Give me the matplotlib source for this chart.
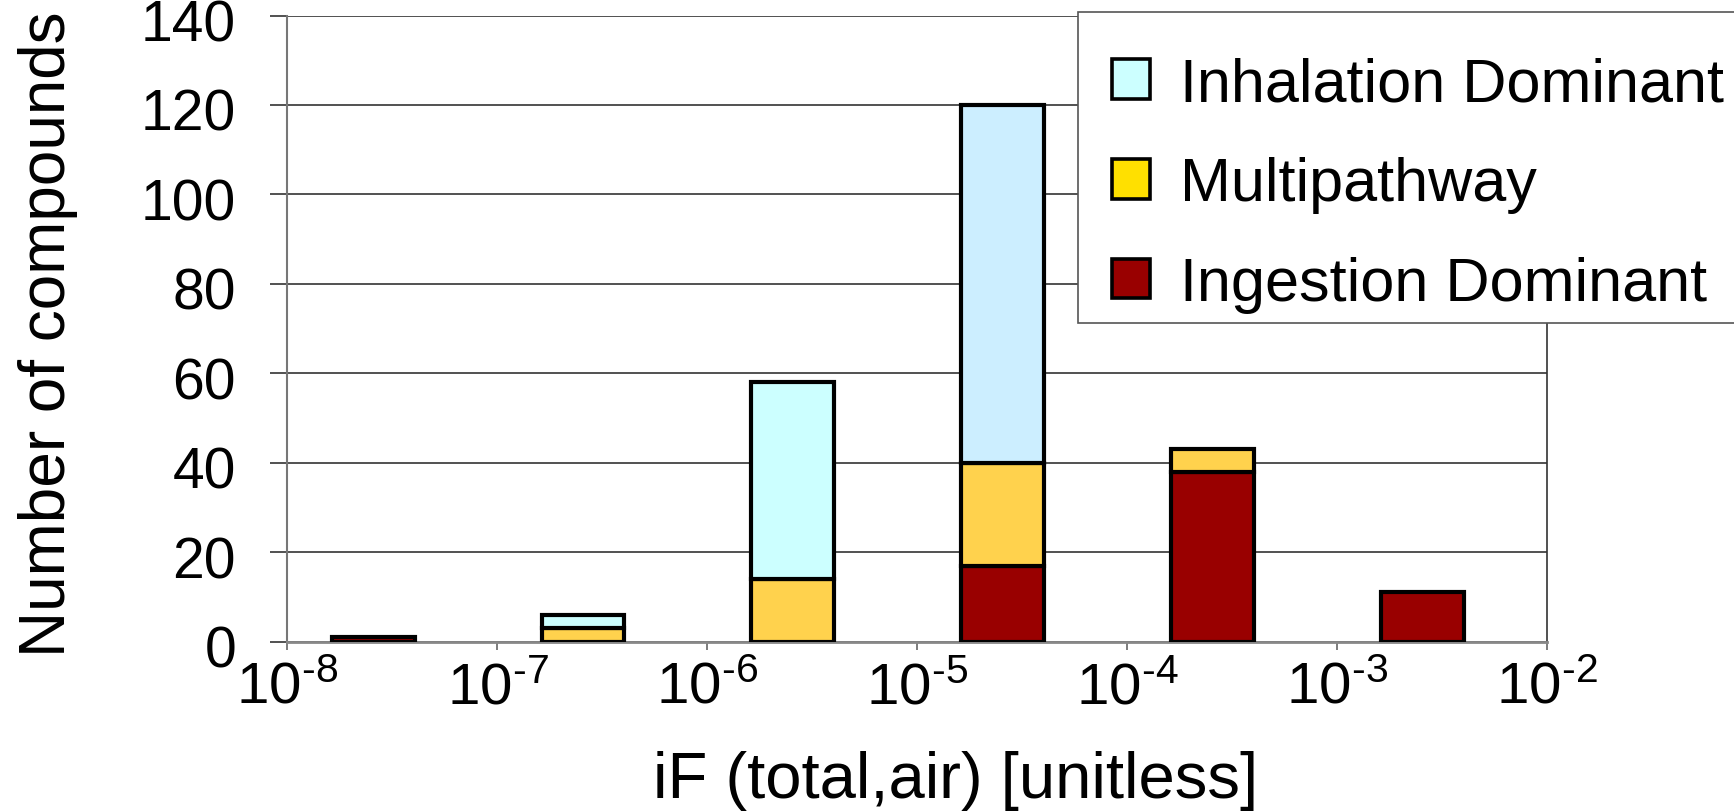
import numpy as np
import matplotlib
matplotlib.use("Agg")
import matplotlib.pyplot as plt
from matplotlib.patches import Patch, Rectangle
from matplotlib.transforms import ScaledTranslation

# lower edge of each iF decade bin
bin_lo = [1e-8, 1e-7, 1e-6, 1e-5, 1e-4, 1e-3]
ingestion = [1, 0, 0, 17, 38, 11]
multipathway = [0, 3, 14, 23, 5, 0]
inhalation = [0, 3, 44, 80, 0, 0]

labels = ["Inhalation Dominant", "Multipathway", "Ingestion Dominant"]
inhal_colors = ["#CCFFFF", "#CCFFFF", "#CCFFFF", "#CCEEFF", "#CCFFFF", "#CCFFFF"]
multi_color = "#FFD24D"
ingest_color = "#990000"

plt.rcParams["font.family"] = ["Liberation Sans", "DejaVu Sans"]
plt.rcParams["mathtext.fontset"] = "custom"
plt.rcParams["mathtext.rm"] = "Liberation Sans"
plt.rcParams["mathtext.default"] = "regular"

W, H = 1734, 812
fig = plt.figure(figsize=(W / 100, H / 100), dpi=100)
ax = fig.add_axes([0.1658, 0.2087, 0.8922 - 0.1658, 0.9796 - 0.2087])
ax.set_xscale("log")

lo = np.array(bin_lo)
left = lo * 10**0.21
right = lo * 10**0.605
width = right - left
ing = np.array(ingestion, dtype=float)
mul = np.array(multipathway, dtype=float)
inh = np.array(inhalation, dtype=float)

edge = dict(edgecolor="black", linewidth=3.0, align="edge", zorder=3)
for i in range(len(lo)):
    if ing[i] > 0:
        ax.bar(left[i], ing[i], width[i], color=ingest_color, **edge)
    if mul[i] > 0:
        ax.bar(left[i], mul[i], width[i], bottom=ing[i], color=multi_color, **edge)
    if inh[i] > 0:
        ax.bar(left[i], inh[i], width[i], bottom=ing[i] + mul[i],
               color=inhal_colors[i], **edge)

ax.set_xlim(1e-8, 1e-2)
ax.set_ylim(0, 140)
ax.set_yticks(np.arange(0, 141, 20))
ax.yaxis.grid(True, color="#222222", linewidth=1.1, zorder=0)
ax.set_axisbelow(True)

decades = [1e-8, 1e-7, 1e-6, 1e-5, 1e-4, 1e-3, 1e-2]
ax.set_xticks(decades)
ax.set_xticklabels([r"$10^{\text{-}%d}$" % int(-np.log10(d) + 0.5) for d in decades])
ax.xaxis.set_minor_locator(matplotlib.ticker.NullLocator())

ax.tick_params(axis="x", direction="out", length=6, width=1.2, color="#666666",
               labelsize=42, pad=8)
ax.tick_params(axis="y", direction="out", length=12, width=1.1, color="#222222",
               labelsize=41, pad=25)
# nudge y labels down a little so the top one stays on the canvas
shift = ScaledTranslation(0, -4 / 100, fig.dpi_scale_trans)
for lbl in ax.get_yticklabels():
    lbl.set_transform(lbl.get_transform() + shift)

ax.spines["top"].set_visible(False)
ax.spines["left"].set_color("#777777")
ax.spines["left"].set_linewidth(1.5)
ax.spines["bottom"].set_color("#888888")
ax.spines["bottom"].set_linewidth(2)
ax.spines["right"].set_color("#333333")
ax.spines["right"].set_linewidth(1.2)

ax.set_ylabel("Number of compounds", fontsize=46, va="center")
ax.yaxis.set_label_coords(-0.19, 0.493)
ax.set_xlabel("iF (total,air) [unitless]", fontsize=47, va="baseline")
ax.xaxis.set_label_coords(0.53, -0.249)

# legend frame as a separate box, running off the right edge
box = Rectangle((1078 / W, 1 - 324 / H), 1.0, (324 - 13) / H,
                transform=fig.transFigure, facecolor="white",
                edgecolor="#555555", linewidth=1.2, zorder=4)
fig.add_artist(box)

handles = [
    Patch(facecolor="#CCFFFF", edgecolor="black", linewidth=2.6),
    Patch(facecolor="#FFE000", edgecolor="black", linewidth=2.6),
    Patch(facecolor=ingest_color, edgecolor="black", linewidth=2.6),
]
leg = fig.legend(handles, labels, loc="upper left",
                 bbox_to_anchor=(1078 / W, 1 - 24 / H),
                 bbox_transform=fig.transFigure, fontsize=44,
                 handlelength=0.62, handleheight=0.62, handletextpad=0.5,
                 labelspacing=0.7, borderpad=0.55, borderaxespad=0,
                 frameon=False)
leg.set_zorder(5)

fig.savefig("out.png", dpi=100)
